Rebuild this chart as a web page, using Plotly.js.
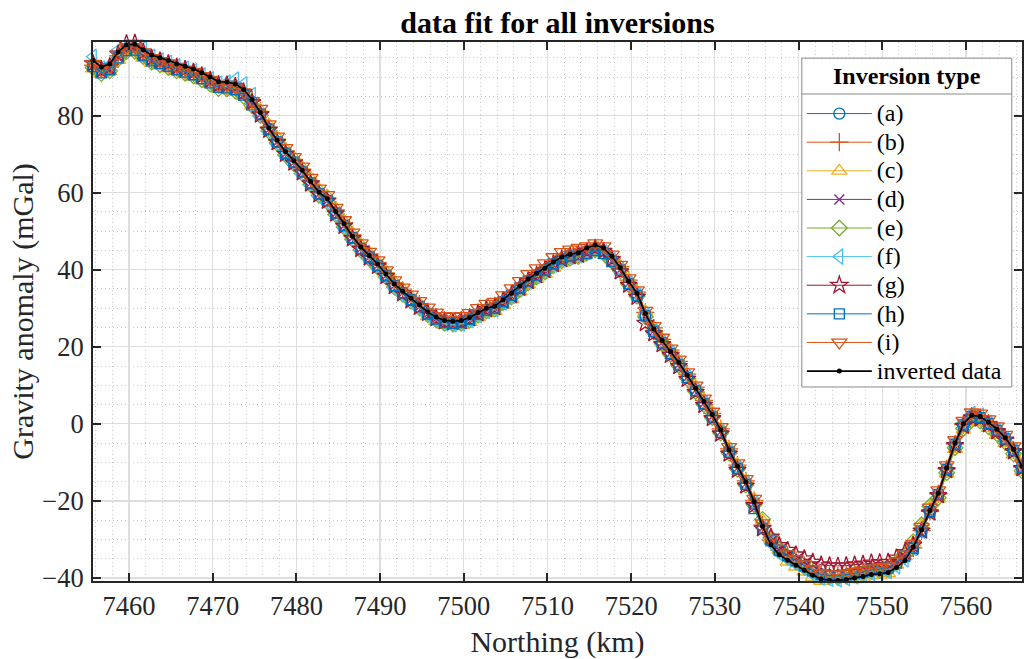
<!DOCTYPE html>
<html>
<head>
<meta charset="utf-8">
<script src="https://cdn.plot.ly/plotly-3.0.1.min.js"></script>
<style>html,body{margin:0;padding:0;background:#fff;}#chart{width:1024px;height:659px;}</style>
</head>
<body>
<div id="chart"></div>
<script>
// Northing (km)
const northing = [7455.7,7456.7,7457.7,7458.7,7459.7,7460.7,7461.7,7462.7,7463.7,7464.7,
7465.7,7466.7,7467.7,7468.7,7469.7,7470.7,7471.7,7472.7,7473.7,7474.7,
7475.7,7476.7,7477.7,7478.7,7479.7,7480.7,7481.7,7482.7,7483.7,7484.7,
7485.7,7486.7,7487.7,7488.7,7489.7,7490.7,7491.7,7492.7,7493.7,7494.7,
7495.7,7496.7,7497.7,7498.7,7499.7,7500.7,7501.7,7502.7,7503.7,7504.7,
7505.7,7506.7,7507.7,7508.7,7509.7,7510.7,7511.7,7512.7,7513.7,7514.7,
7515.7,7516.7,7517.7,7518.7,7519.7,7520.7,7521.7,7522.7,7523.7,7524.7,
7525.7,7526.7,7527.7,7528.7,7529.7,7530.7,7531.7,7532.7,7533.7,7534.7,
7535.7,7536.7,7537.7,7538.7,7539.7,7540.7,7541.7,7542.7,7543.7,7544.7,
7545.7,7546.7,7547.7,7548.7,7549.7,7550.7,7551.7,7552.7,7553.7,7554.7,
7555.7,7556.7,7557.7,7558.7,7559.7,7560.7,7561.7,7562.7,7563.7,7564.7,
7565.7,7566.7];

const invertedData = [94.3,92.6,93.4,96.5,98.4,98.5,97.1,95.7,95.0,94.3,
93.4,92.8,92.1,91.1,90.0,88.8,88.7,88.2,86.8,84.2,
80.8,76.8,73.6,70.6,68.3,65.8,62.9,60.1,58.4,55.1,
51.9,48.7,45.9,43.7,41.5,38.9,36.3,34.4,32.6,30.9,
29.0,27.7,26.8,26.6,26.8,27.6,28.9,30.0,30.5,32.2,
33.9,35.8,37.6,39.1,40.4,42.0,43.3,44.0,44.4,45.6,
46.4,45.6,43.5,40.5,37.0,33.9,28.6,24.6,21.6,18.8,
15.9,12.6,9.2,5.8,2.4,-1.6,-6.8,-11.0,-15.1,-20.2,
-26.6,-31.4,-34.0,-35.4,-36.7,-38.0,-39.3,-40.3,-40.6,-40.7,
-40.4,-40.0,-39.6,-39.1,-38.9,-38.6,-37.3,-35.5,-32.0,-27.5,
-22.5,-18.0,-11.5,-5.0,0.0,2.2,1.9,0.4,-1.4,-3.6,
-6.6,-11.0];

const seriesA = [92.5,91.7,92.2,94.9,96.9,97.1,95.8,94.5,93.6,92.8,
92.1,91.4,90.5,89.6,88.7,87.7,87.3,87.0,85.8,83.6,
80.4,76.6,73.1,70.3,67.9,65.6,62.3,59.8,57.9,54.9,
51.5,48.4,45.4,43.5,41.1,38.6,35.8,34.0,32.1,30.3,
28.4,27.1,26.3,26.0,26.3,27.0,28.3,29.5,30.0,31.6,
33.3,35.2,36.9,38.5,39.8,41.3,42.6,43.2,43.5,44.3,
45.0,44.2,42.4,39.8,36.2,33.1,27.9,24.0,20.9,18.1,
15.2,11.9,8.5,5.1,1.7,-2.3,-7.4,-11.6,-15.8,-20.8,
-26.9,-30.6,-33.0,-34.4,-35.7,-37.0,-38.3,-39.2,-39.6,-39.6,
-39.4,-39.0,-38.6,-38.2,-37.9,-37.6,-36.4,-34.6,-32.3,-27.9,
-22.9,-18.4,-12.0,-5.6,-0.5,1.6,1.4,-0.1,-1.9,-4.1,
-7.1,-11.5];

const seriesB = [93.1,92.0,92.6,95.5,97.3,97.6,96.1,94.6,94.1,93.3,
92.5,91.7,91.1,90.3,89.1,88.1,87.7,87.4,86.2,83.9,
81.1,77.0,73.9,70.8,68.6,66.1,63.1,60.5,58.6,55.5,
52.2,49.0,46.1,44.1,41.8,39.1,36.6,34.7,32.8,31.1,
29.1,27.7,26.9,26.6,26.9,27.7,28.9,30.1,30.6,32.1,
33.6,35.5,37.3,38.8,40.1,41.7,43.0,43.7,44.1,44.8,
45.6,44.8,42.7,40.8,37.3,34.2,28.9,24.9,21.9,19.1,
16.2,12.9,9.5,6.1,2.7,-1.3,-6.5,-10.7,-14.8,-19.9,
-26.3,-30.2,-32.8,-34.2,-35.5,-36.8,-38.1,-39.1,-39.4,-39.5,
-39.2,-38.8,-38.4,-37.9,-37.7,-37.4,-36.1,-34.3,-32.2,-27.7,
-22.7,-18.2,-11.7,-5.2,-0.2,2.0,1.7,0.2,-1.6,-3.8,
-6.8,-11.2];

const seriesC = [92.2,90.8,91.4,94.4,96.5,96.6,95.0,93.7,93.0,92.2,
91.5,90.8,90.0,89.1,88.1,86.9,86.6,86.3,85.0,82.6,
81.5,77.7,74.4,71.4,69.2,66.6,63.8,60.9,59.2,56.0,
52.7,49.5,46.6,44.5,42.2,39.6,37.0,35.0,33.1,31.2,
27.9,26.5,25.6,25.4,25.6,26.4,27.6,28.7,29.2,30.8,
32.4,34.3,36.1,37.6,38.9,40.5,41.8,42.6,43.0,44.6,
45.4,44.5,42.6,41.0,37.5,34.3,29.2,25.1,22.0,19.4,
16.4,13.1,9.7,6.3,2.9,-1.1,-6.2,-10.5,-14.6,-19.5,
-25.1,-29.9,-32.6,-35.8,-37.1,-38.4,-39.8,-40.8,-41.1,-41.2,
-40.9,-40.4,-40.0,-39.4,-39.2,-38.8,-36.6,-34.4,-30.9,-26.4,
-21.6,-19.4,-12.9,-6.6,-1.5,0.7,0.4,-1.1,-2.9,-5.0,
-8.0,-12.3];

const seriesD = [92.9,91.2,91.8,95.0,96.8,97.0,95.6,94.3,93.5,92.7,
91.9,91.3,90.6,89.6,88.5,87.4,87.2,86.7,85.4,83.0,
80.3,76.3,73.1,70.1,67.8,65.3,62.4,59.6,57.9,54.6,
51.4,48.2,45.4,43.2,41.0,38.4,35.8,33.9,32.1,30.4,
28.5,27.2,26.3,26.1,26.3,27.1,28.4,29.5,30.0,31.7,
33.1,35.0,36.8,38.3,39.6,41.2,42.5,43.2,43.6,44.4,
45.2,44.4,42.3,40.0,36.5,33.4,28.1,24.1,21.1,18.3,
15.4,12.1,8.7,5.3,1.9,-2.1,-7.3,-11.5,-15.6,-20.7,
-27.1,-30.4,-33.0,-34.4,-35.7,-37.0,-38.3,-39.3,-39.6,-39.7,
-39.4,-39.0,-38.6,-38.1,-37.9,-37.6,-36.3,-34.5,-32.8,-28.3,
-23.3,-18.8,-12.3,-5.8,-0.8,1.4,1.1,-0.4,-2.2,-4.4,
-7.4,-11.8];

const seriesE = [92.5,90.9,91.6,94.7,96.6,96.7,95.3,93.9,93.2,92.5,
91.6,91.0,90.3,89.3,88.2,87.0,86.9,86.4,85.0,82.6,
80.0,76.0,72.8,69.8,67.5,65.0,62.1,59.3,57.6,54.3,
51.1,47.9,45.1,42.9,40.7,38.1,35.5,33.6,31.8,30.1,
28.3,27.0,26.1,25.9,26.1,26.9,28.2,29.3,29.8,31.5,
32.9,34.8,36.6,38.1,39.4,41.0,42.3,43.0,43.4,44.3,
45.1,44.3,42.2,39.7,36.2,33.1,27.8,23.8,20.8,18.0,
15.1,11.8,8.4,5.0,1.6,-2.4,-7.6,-11.8,-15.9,-21.0,
-24.8,-29.6,-32.6,-34.6,-35.9,-37.2,-38.5,-39.5,-39.8,-39.9,
-39.6,-39.2,-38.8,-38.3,-38.1,-37.8,-36.0,-34.0,-30.6,-26.2,
-21.4,-19.2,-12.7,-6.2,-1.2,1.0,0.7,-0.8,-2.6,-4.8,
-7.8,-12.2];

const seriesF = [95.3,92.3,93.2,97.0,99.6,99.5,97.4,95.3,94.4,93.8,
92.9,92.3,91.6,90.5,89.5,88.3,88.6,89.4,88.2,85.4,
79.8,75.8,72.6,69.6,67.3,64.8,61.9,59.1,57.4,54.1,
50.9,47.7,44.9,42.7,40.5,37.9,35.3,33.4,31.6,29.9,
28.2,26.9,26.0,25.8,26.0,26.8,28.1,29.2,29.7,31.4,
33.2,35.1,36.9,38.4,39.7,41.3,42.6,43.3,43.7,44.6,
45.4,44.6,42.5,40.0,36.5,33.4,28.1,24.1,21.1,18.3,
15.4,12.1,8.7,5.3,1.9,-2.1,-7.3,-11.5,-15.6,-20.7,
-27.1,-31.1,-33.7,-35.1,-36.4,-37.7,-39.0,-40.0,-40.3,-40.4,
-40.1,-39.7,-39.3,-38.8,-38.6,-38.3,-37.0,-35.2,-32.3,-27.8,
-22.8,-18.3,-11.8,-5.3,0.2,2.7,2.2,0.3,-1.7,-3.9,
-6.9,-11.3];

const seriesG = [93.5,91.8,92.7,96.0,98.7,98.8,96.5,94.9,94.2,93.5,
92.6,92.0,91.3,90.3,89.2,88.0,88.0,87.6,86.0,83.4,
80.2,76.2,73.0,70.0,67.7,65.2,62.3,59.5,57.8,54.5,
51.3,48.1,45.3,43.1,40.9,38.3,35.7,33.8,32.0,30.3,
28.7,27.4,26.5,26.3,26.5,27.3,28.6,29.7,30.2,31.9,
33.3,35.2,37.0,38.5,39.8,41.4,42.7,43.4,43.8,44.8,
45.6,44.8,42.7,39.5,36.0,32.9,26.1,23.4,20.6,17.8,
14.9,11.6,8.2,4.8,1.4,-2.6,-7.8,-12.0,-16.1,-21.2,
-27.2,-29.4,-31.6,-32.8,-34.0,-35.0,-35.9,-36.6,-36.8,-36.9,
-36.8,-36.6,-36.4,-36.1,-36.0,-35.9,-34.8,-33.4,-31.5,-27.8,
-23.1,-18.6,-12.1,-5.6,-0.6,1.6,1.3,-0.2,-2.0,-4.2,
-7.2,-11.6];

const seriesH = [92.8,91.1,91.9,95.0,96.9,97.0,95.6,94.2,93.5,92.8,
91.9,91.3,90.6,89.6,88.5,87.3,87.2,86.7,85.3,82.8,
80.4,76.4,73.2,70.2,67.9,65.4,62.5,59.7,58.0,54.7,
51.5,48.3,45.5,43.3,41.1,38.5,35.9,34.0,32.2,30.5,
28.5,27.2,26.3,26.1,26.3,27.1,28.4,29.5,30.0,31.7,
33.4,35.3,37.1,38.6,39.9,41.5,42.8,43.5,43.9,44.2,
45.0,44.2,42.1,39.9,36.4,33.3,28.0,24.0,21.0,18.2,
15.3,12.0,8.6,5.2,1.8,-2.2,-7.4,-11.6,-15.7,-22.0,
-27.2,-30.2,-32.8,-34.2,-35.5,-36.8,-38.1,-39.1,-39.4,-39.5,
-39.2,-38.8,-38.4,-37.9,-37.7,-37.4,-36.1,-34.3,-32.3,-27.8,
-22.8,-18.3,-11.8,-5.3,-0.3,1.9,1.6,0.1,-1.7,-3.9,
-6.9,-11.3];

const seriesI = [93.5,91.9,92.6,95.8,97.7,97.8,96.4,95.0,94.2,93.6,
92.7,92.0,91.4,90.3,89.3,88.0,88.0,87.4,86.1,83.8,
81.8,77.8,74.6,71.6,69.3,66.8,63.9,61.1,59.4,56.1,
52.9,49.7,46.9,44.7,42.5,39.9,37.3,35.4,33.6,31.9,
30.2,28.9,28.0,27.8,28.0,28.8,30.1,31.2,31.7,33.4,
35.2,37.1,38.9,40.4,41.7,43.3,44.6,45.3,45.7,46.1,
46.9,46.1,44.0,41.3,37.8,34.7,29.4,25.4,22.4,19.6,
16.7,13.4,10.0,6.6,3.2,-0.8,-6.0,-10.2,-14.3,-19.4,
-25.8,-29.8,-32.4,-33.8,-35.1,-36.4,-37.7,-38.7,-39.0,-39.1,
-38.8,-38.4,-38.0,-37.5,-37.3,-37.0,-35.7,-33.9,-31.2,-26.7,
-21.7,-17.2,-10.7,-4.2,0.8,3.0,2.7,1.2,-0.6,-2.8,
-5.8,-10.2];

const seriesNames = ['(a)','(b)','(c)','(d)','(e)','(f)','(g)','(h)','(i)'];
const seriesValues = [seriesA,seriesB,seriesC,seriesD,seriesE,seriesF,seriesG,seriesH,seriesI];
const seriesColors = ['#0072BD','#D95319','#EDB120','#7E2F8E','#77AC30','#4DBEEE','#A2142F','#0072BD','#D95319'];
const seriesSymbols = ['circle-open','cross-thin-open','triangle-up-open','x-thin-open','diamond-open','triangle-left-open','star-open','square-open','triangle-down-open'];
const seriesSizes = [11,13,13,10,12,13,13,10,13];

const FONT = 'Liberation Serif, Times New Roman, serif';
const legendLabel = t => '<span style="font-size:24px">' + t + '</span>';

const traces = seriesNames.map((n,k)=>({
  type:'scatter', mode:'lines+markers', name:legendLabel(n),
  x:northing, y:seriesValues[k], cliponaxis:false,
  line:{color:seriesColors[k], width:1},
  marker:{symbol:seriesSymbols[k], size:seriesSizes[k], color:seriesColors[k], line:{color:seriesColors[k], width:1.3}}
}));
traces.push({
  type:'scatter', mode:'lines+markers', name:legendLabel('inverted data'),
  x:northing, y:invertedData, cliponaxis:false,
  line:{color:'#000000', width:1.6},
  marker:{symbol:'circle', size:5, color:'#000000'}
});

const axisCommon = {
  showline:true, linecolor:'#262626', linewidth:2, mirror:'ticks',
  ticks:'inside', ticklen:8, tickwidth:2, tickcolor:'#262626',
  showgrid:true, gridcolor:'#dedede', gridwidth:1.3, zeroline:false,
  tickfont:{family:FONT, size:26.5, color:'#262626'}
};

// legend box (paper coordinates)
const legX0 = 0.763, legX1 = 0.989, legYTop = 0.970, legYBot = 0.360, legYSep = 0.9035;

const layout = {
  width:1024, height:659,
  margin:{l:93, r:2, t:42, b:78},
  paper_bgcolor:'#ffffff', plot_bgcolor:'#ffffff',
  font:{family:FONT, color:'#262626'},
  title:{text:'<b>data fit for all inversions</b>', font:{family:FONT, size:30, color:'#000'}, x:0.5, xref:'paper', xanchor:'center', y:0.966, yref:'container', yanchor:'middle'},
  xaxis:Object.assign({}, axisCommon, {
    range:[7455.7, 7566.7], tick0:7460, dtick:10,
    minor:{dtick:2, showgrid:true, gridcolor:'#c9c9c9', griddash:'1px,3px', gridwidth:1, ticks:''},
    title:{text:'Northing (km)', font:{family:FONT, size:30, color:'#262626'}, standoff:16}
  }),
  yaxis:Object.assign({}, axisCommon, {
    range:[-40.8, 99.1], tick0:0, dtick:20, ticklabelstandoff:2,
    minor:{dtick:5, showgrid:true, gridcolor:'#c9c9c9', griddash:'1px,3px', gridwidth:1, ticks:''},
    title:{text:'Gravity anomaly (mGal)', font:{family:FONT, size:30, color:'#262626'}, standoff:0}
  }),
  legend:{
    x:legX0, xanchor:'left', y:0.903, yanchor:'top',
    bgcolor:'rgba(0,0,0,0)', borderwidth:0,
    font:{family:FONT, size:19.7, color:'#000'},
    itemwidth:65, tracegroupgap:0
  },
  shapes:[
    {type:'rect', xref:'paper', yref:'paper', x0:legX0, x1:legX1, y0:legYBot, y1:legYTop, fillcolor:'#ffffff', line:{color:'#8a8a8a', width:1}, layer:'above'},
    {type:'line', xref:'paper', yref:'paper', x0:legX0, x1:legX1, y0:legYSep, y1:legYSep, line:{color:'#8a8a8a', width:1}, layer:'above'}
  ],
  annotations:[
    {text:'<b>Inversion type</b>', xref:'paper', yref:'paper', x:(legX0+legX1)/2, y:(legYTop+legYSep)/2, xanchor:'center', yanchor:'middle', showarrow:false, font:{family:FONT, size:24, color:'#000'}}
  ],
  showlegend:true
};

Plotly.newPlot('chart', traces, layout, {displayModeBar:false, staticPlot:true});
</script>
</body>
</html>
